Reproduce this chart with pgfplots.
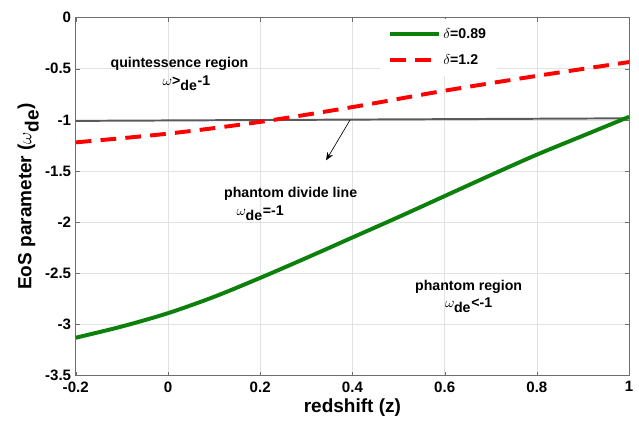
\documentclass[border={10pt 0pt 1pt 6pt}]{standalone}
\usepackage{pgfplots}
\pgfplotsset{compat=1.18}
\usepackage{fontspec}
\setmainfont{Liberation Sans}
\usetikzlibrary{arrows.meta}
\definecolor{curveGreen}{HTML}{0B800B}
\definecolor{curveRed}{HTML}{FF0000}
\definecolor{divideGray}{HTML}{5A5A5A}
\definecolor{gridGray}{HTML}{E2E2E2}
\definecolor{frameGray}{HTML}{6E6E6E}
\newcommand{\annot}{\fontsize{10.8}{13}\selectfont\bfseries}
\begin{document}
\begin{tikzpicture}
  \begin{axis}[
    scale only axis,
    width=422pt, height=273pt,
    xmin=-0.2, xmax=1, ymin=-3.5, ymax=0,
    xtick={-0.2,0,0.2,0.4,0.6,0.8,1},
    ytick={-3.5,-3,-2.5,-2,-1.5,-1,-0.5,0},
    /pgf/number format/assume math mode=true,
    tick label style={font=\fontsize{11.5}{13}\selectfont\bfseries, text=black},
    xticklabel style={yshift=-1pt},
    tick align=inside,
    major tick length=3pt,
    tick style={draw=frameGray},
    axis line style={draw=frameGray, line width=0.6pt},
    grid=major,
    major grid style={draw=gridGray, line width=0.4pt},
    xlabel={\bfseries redshift (z)},
    ylabel={\bfseries EoS parameter ($\omega_{\textbf{de}}$)},
    label style={font=\fontsize{14.5}{17}\selectfont},
    xlabel style={yshift=2pt},
    ylabel style={yshift=-2pt},
    legend style={at={(axis cs:0.46,-0.01)}, anchor=north west,
      draw=none, fill=white, font=\annot,
      inner xsep=6pt, inner ysep=5pt, row sep=7pt},
    legend cell align=left,
    legend image code/.code={\draw[#1] (0cm,0cm) -- (1.3cm,0cm);},
  ]
    % phantom divide line
    \addplot[divideGray, line width=1.5pt, forget plot]
      coordinates {(-0.2,-1.01) (1,-0.985)};
    \addplot[curveGreen, line width=3pt, smooth]
      coordinates {
        (-0.2,-3.13) (-0.1,-3.02) (0,-2.89) (0.1,-2.73) (0.2,-2.545)
        (0.3,-2.35) (0.4,-2.15) (0.5,-1.95) (0.6,-1.745) (0.7,-1.54)
        (0.8,-1.34) (0.9,-1.155) (1,-0.97)
      };
    \addlegendentry{$\delta$=0.89}
    \addplot[curveRed, line width=3pt, dash pattern=on 12pt off 7pt, smooth]
      coordinates {
        (-0.2,-1.22) (0,-1.135) (0.2,-1.02) (0.4,-0.875)
        (0.6,-0.715) (0.8,-0.57) (1,-0.435)
      };
    \addlegendentry{$\delta$=1.2}
    \draw[-{Stealth[length=6pt,width=5pt]}, line width=0.5pt]
      (axis cs:0.395,-1.0) -- (axis cs:0.343,-1.395);
    \node[font=\annot] at (axis cs:0.025,-0.455)
      {quintessence region};
    \node[font=\annot] at (axis cs:0.04,-0.64)
      {$\omega$>$_{\textbf{de}}$-1};
    \node[font=\annot] at (axis cs:0.266,-1.725)
      {phantom divide line};
    \node[font=\annot] at (axis cs:0.20,-1.91)
      {$\omega_{\textbf{de}}$=-1};
    \node[font=\annot] at (axis cs:0.652,-2.635)
      {phantom region};
    \node[font=\annot] at (axis cs:0.652,-2.81)
      {$\omega_{\textbf{de}}$<-1};
  \end{axis}
\end{tikzpicture}
\end{document}
